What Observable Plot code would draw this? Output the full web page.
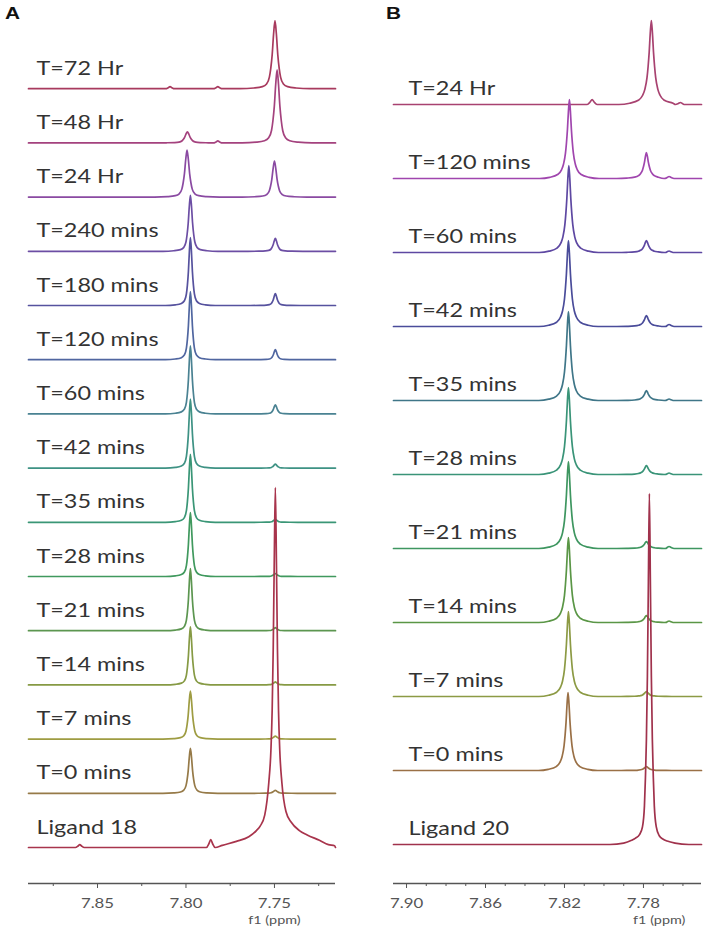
<!DOCTYPE html>
<html><head><meta charset="utf-8">
<script src="https://cdn.jsdelivr.net/npm/d3@7"></script>
<script src="https://cdn.jsdelivr.net/npm/@observablehq/plot@0.6"></script>
<style>
body{margin:0;background:#fff;}
#wrap{position:relative;width:706px;height:935px;display:flex;}
.panel{position:relative;width:353px;height:935px;}
.letter{position:absolute;top:6px;font:bold 16px "Liberation Sans",Arial,sans-serif;line-height:16px;color:#111;transform:scaleX(1.3);transform-origin:left top;}
svg{display:block;}
</style></head><body>
<div id="wrap">
<div class="panel" id="pa"><div class="letter" style="left:5px">A</div></div>
<div class="panel" id="pb"><div class="letter" style="left:33px">B</div></div>
</div>
<script>
// ---------------- Panel A (ligand 18) ----------------
const labelsA = ["T=72 Hr","T=48 Hr","T=24 Hr","T=240 mins","T=180 mins","T=120 mins","T=60 mins","T=42 mins","T=35 mins","T=28 mins","T=21 mins","T=14 mins","T=7 mins","T=0 mins","Ligand 18"];
const colorsA = ["#a83a5e","#a4427e","#8a4aa2","#6c4ea4","#56529e","#5066a0","#4a8292","#3e9284","#3a9676","#40995e","#5c9650","#869a44","#9e9c42","#967a48","#a8344c"];
// signal near 7.80 ppm: position and height (a.u.)
const p1PosA = [7.7995,7.7992,7.7994,7.7975,7.7975,7.7975,7.7975,7.7975,7.7975,7.7975,7.7975,7.7975,7.7975,7.7975,7.7975];
const p1HA   = [0,11,47,56,68,68,68,69,68,64,62,58,48,45,0];
// signal near 7.75 ppm
const p2PosA = [7.7497,7.7485,7.7500,7.7495,7.7495,7.7495,7.7495,7.7495,7.7495,7.7495,7.7495,7.7495,7.7495,7.7495,7.7495];
const p2HA   = [68,73,36,13,12,10,9,4,3,3,3,3,3,3,360];
const widthA = [1.4,1.4,1.3,1.1,1,1,1,1,1,1,1,1,1.1,1.1,1];
const bumpsA = [[0,7.809,2],[0,7.782,2],[1,7.782,2],[14,7.860,3],[14,7.786,8]];
const majorTicksA = [7.85,7.80,7.75];
const minorTicksA = [7.875,7.825,7.775,7.725];
const xDomainA = [7.889,7.7155];

// ---------------- Panel B (ligand 20) ----------------
const labelsB = ["T=24 Hr","T=120 mins","T=60 mins","T=42 mins","T=35 mins","T=28 mins","T=21 mins","T=14 mins","T=7 mins","T=0 mins","Ligand 20"];
const colorsB = ["#a84270","#a046ae","#5e48a2","#4a4c9a","#3f7688","#3a9478","#3e9660","#5a9646","#8c9a44","#9a7046","#a0324c"];
const p1PosB = [7.818,7.8175,7.8178,7.818,7.818,7.818,7.818,7.818,7.818,7.8182,7.818];
const p1HB   = [0,79,87,86,89,87,87,85,85,78,0];
const p2PosB = [7.776,7.7785,7.7785,7.7785,7.7785,7.7785,7.7785,7.7785,7.7785,7.7785,7.777];
const p2HB   = [84,26,12,11,10,9,7,7,5,4,351];
const widthB = [1.1,1,1,1,1,1,1,1,1,1,1];
const bumpsB = [[0,7.806,5],[0,7.7613,2],[1,7.767,2],[2,7.767,1.5],[3,7.767,2],[4,7.767,1.5],[5,7.767,1.5],[6,7.767,2],[7,7.767,1.5]];
const majorTicksB = [7.90,7.86,7.82,7.78];
const minorTicksB = [7.89,7.88,7.87,7.85,7.84,7.83,7.81,7.80,7.79,7.77,7.76];
const xDomainB = [7.9066,7.7506];

// line shapes: [ppm offset from peak centre, fraction of peak height]
const halfShapeA = [[0,1],[0.00057,0.8],[0.00113,0.5],[0.0017,0.3],[0.00226,0.17],[0.0034,0.07],[0.0051,0.03],[0.0085,0.01],[0.0141,0]];
const halfShapeB = [[0,1],[0.0005,0.85],[0.001,0.62],[0.0015,0.45],[0.002,0.32],[0.003,0.18],[0.004,0.11],[0.006,0.05],[0.010,0.015],[0.015,0]];
const halfBump = [[0,1],[0.001,0.5],[0.0025,0]];
const ligandShapeA = [[0.04,0],[0.03,0.006],[0.022,0.017],[0.015,0.03],[0.0107,0.047],[0.0085,0.06],[0.006,0.09],[0.0037,0.18],[0.0025,0.27],[0.0018,0.38],[0.0012,0.55],[0.0006,0.8],[0,1],[-0.0006,0.8],[-0.0012,0.55],[-0.0018,0.38],[-0.0025,0.27],[-0.0037,0.18],[-0.006,0.1],[-0.009,0.07],[-0.0136,0.047],[-0.018,0.035],[-0.0249,0.02],[-0.03,0.008],[-0.0335,0.005]];
const ligandShapeB = [[0.02,0],[0.013,0.004],[0.009,0.012],[0.007,0.018],[0.005,0.028],[0.0035,0.05],[0.0025,0.11],[0.002,0.19],[0.0015,0.3],[0.001,0.48],[0.0005,0.75],[0,1],[-0.0005,0.75],[-0.001,0.48],[-0.0015,0.3],[-0.002,0.19],[-0.0025,0.11],[-0.0035,0.05],[-0.005,0.025],[-0.007,0.015],[-0.009,0.01],[-0.013,0.004],[-0.02,0]];

const mirror = half => {
  const out = [];
  half.forEach(([dx, r]) => { out.push([dx, r]); if (dx > 0) out.push([-dx, r]); });
  return out;
};

function tracePoints(cfg, i) {
  const pts = [[cfg.xDomain[0], 0], [cfg.xDomain[1], 0]];
  const isLig = i === cfg.labels.length - 1;
  const add = (pos, h, shape, w) => { if (h > 0) shape.forEach(([dx, r]) => pts.push([pos + dx * w, h * r])); };
  add(cfg.p1Pos[i], cfg.p1H[i], mirror(cfg.half), cfg.width[i]);
  add(cfg.p2Pos[i], cfg.p2H[i], isLig ? cfg.ligShape : mirror(cfg.half), isLig ? 1 : cfg.width[i]);
  cfg.bumps.filter(b => b[0] === i).forEach(b => add(b[1], b[2], mirror(halfBump), 1));
  pts.sort((a, b) => b[0] - a[0]);
  return pts.filter(p => p[0] <= cfg.xDomain[0] && p[0] >= cfg.xDomain[1]);
}

function panel(cfg) {
  const n = cfg.labels.length;
  const data = [];
  cfg.labels.forEach((lab, i) => {
    const off = (n - 1 - i) * cfg.step;
    tracePoints(cfg, i).forEach(([x, h]) => data.push({s: i, x, y: off + h, c: cfg.colors[i]}));
  });
  const rows = cfg.labels.map((label, i) => ({label, y: (n - 1 - i) * cfg.step}));
  return Plot.plot({
    width: 353, height: 935,
    marginTop: 0, marginBottom: 52, marginLeft: cfg.ml, marginRight: cfg.mr,
    x: {domain: cfg.xDomain, label: null},
    y: {domain: cfg.yDomain, axis: null, label: null},
    color: {type: "identity"},
    style: {background: "#fff", overflow: "visible"},
    marks: [
      Plot.text(rows, {y: "y", text: "label", frameAnchor: "left", textAnchor: "start", lineAnchor: "bottom",
        dx: cfg.labelDx, dy: cfg.labelDy, fontSize: 19.5, fontFamily: "Lato, 'Open Sans', sans-serif", fill: "#333"}),
      Plot.line(data, {x: "x", y: "y", z: "s", stroke: "c", strokeWidth: 1.7, curve: "monotone-x"}),
      Plot.ruleY([cfg.yDomain[0]], {stroke: "#555", strokeWidth: 1.6}),
      Plot.axisX(cfg.minor, {tickSize: 3, tickFormat: () => "", color: "#555", label: null}),
      Plot.axisX(cfg.major, {tickSize: 5, tickPadding: 10, tickFormat: d3.format(".2f"), color: "#555",
        fontSize: 14, fontFamily: "Lato, sans-serif", label: null}),
      Plot.text([cfg.axisTitle], {x: cfg.axisTitleAt, frameAnchor: "bottom", lineAnchor: "bottom", dy: 40,
        fontSize: 12, fontFamily: "Lato, sans-serif", fill: "#555"})
    ]
  });
}

function stretch(svg, k) {
  svg.querySelectorAll("text").forEach(t => {
    const tr = t.getAttribute("transform");
    if (tr) t.setAttribute("transform", tr + ` scale(${k},1)`);
    else {
      const x = +t.getAttribute("x") || 0, y = +t.getAttribute("y") || 0;
      t.removeAttribute("x"); t.removeAttribute("y");
      t.setAttribute("transform", `translate(${x},${y}) scale(${k},1)`);
    }
  });
}

const svgA = panel({
  labels: labelsA, colors: colorsA, p1Pos: p1PosA, p1H: p1HA, p2Pos: p2PosA, p2H: p2HA, width: widthA,
  bumps: bumpsA, half: halfShapeA, ligShape: ligandShapeA, xDomain: xDomainA, yDomain: [-36, 847], step: 54.2,
  major: majorTicksA, minor: minorTicksA, ml: 28, mr: 18, labelDx: 8, labelDy: -14,
  axisTitle: "f1 (ppm)", axisTitleAt: 7.75
});
const svgB = panel({
  labels: labelsB, colors: colorsB, p1Pos: p1PosB, p1H: p1HB, p2Pos: p2PosB, p2H: p2HB, width: widthB,
  bumps: bumpsB, half: halfShapeB, ligShape: ligandShapeB, xDomain: xDomainB, yDomain: [-39, 844], step: 74,
  major: majorTicksB, minor: minorTicksB, ml: 40, mr: 5, labelDx: 15, labelDy: -10,
  axisTitle: "f1 (ppm)", axisTitleAt: 7.772
});
stretch(svgA, 1.2);
stretch(svgB, 1.2);
document.getElementById("pa").appendChild(svgA);
document.getElementById("pb").appendChild(svgB);
</script>
</body></html>
